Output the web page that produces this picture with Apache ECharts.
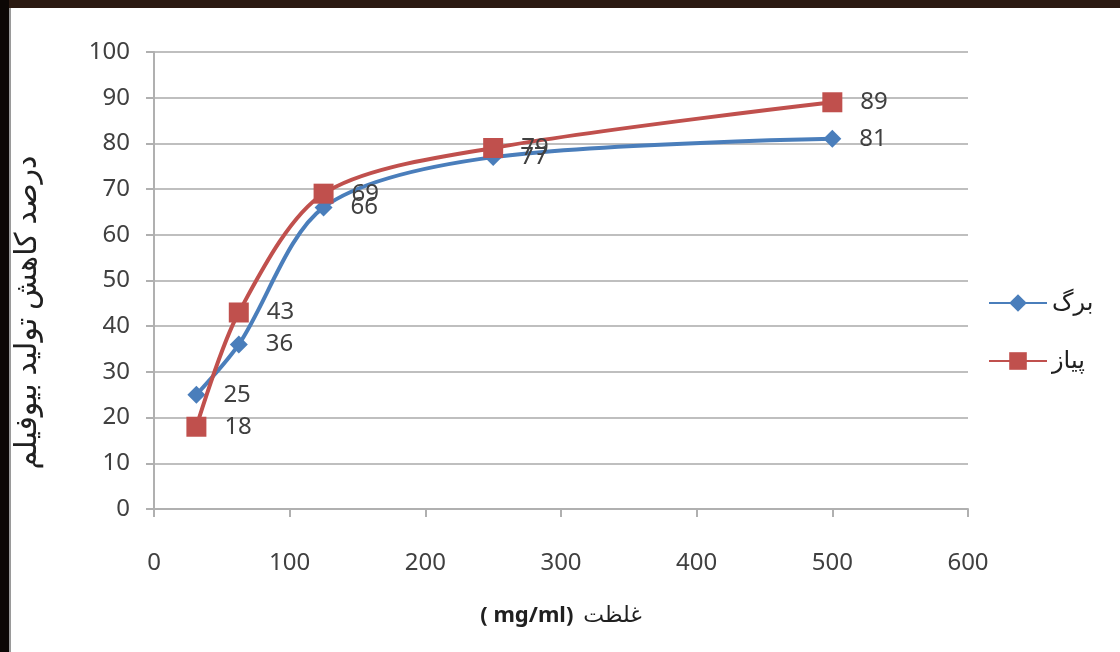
<!DOCTYPE html>
<html><head><meta charset="utf-8">
<script src="https://cdn.jsdelivr.net/npm/echarts@6/dist/echarts.min.js"></script>
<style>html,body{margin:0;padding:0;background:#fff}#c{width:1120px;height:652px}</style>
</head><body><div id="c"></div>
<script>
const concentrations = [31.25, 62.5, 125, 250, 500];
const leafValues = [25, 36, 66, 77, 81];
const onionValues = [18, 43, 69, 79, 89];
const seriesNames = ['برگ', 'پیاز'];
const yAxisTitle = 'درصد کاهش تولید بیوفیلم';
const xAxisTitleUnit = '( mg/ml)';
const xAxisTitleWord = 'غلظت';

const chart = echarts.init(document.getElementById('c'));
const font = '"Noto Sans", "DejaVu Sans", sans-serif';
const labelStyle = {show: true, position: 'right', distance: 18, color: '#404040', fontSize: 24, fontFamily: font};
chart.setOption({
  backgroundColor: '#ffffff',
  animation: false,
  graphic: [
    {type: 'rect', left: 0, top: 0, shape: {width: 1120, height: 8}, style: {fill: '#2b1a12'}, z: 100},
    {type: 'rect', left: 0, top: 0, shape: {width: 9, height: 652}, style: {fill: '#0c0705'}, z: 100},
    {type: 'rect', left: 9, top: 8, shape: {width: 2, height: 644}, style: {fill: '#9a9a9a'}, z: 100}
  ],
  grid: {left: 154, right: 152, top: 52, bottom: 143},
  legend: {
    orient: 'vertical', left: 983, top: 286, itemGap: 34, itemWidth: 58, itemHeight: 22,
    textStyle: {fontSize: 24, color: '#202020', fontFamily: font},
    data: seriesNames
  },
  xAxis: {
    type: 'value', min: 0, max: 600, interval: 100,
    name: '{b|' + xAxisTitleUnit + '}   {a|' + xAxisTitleWord + '}',
    nameLocation: 'middle', nameGap: 96,
    nameTextStyle: {rich: {b: {fontSize: 22, fontWeight: 'bold', color: '#202020', fontFamily: font}, a: {fontSize: 22, color: '#202020', fontFamily: font}}},
    axisLine: {show: true, lineStyle: {color: '#b0b0b0', width: 2}},
    axisTick: {show: true, length: 8, lineStyle: {color: '#b0b0b0', width: 2}},
    axisLabel: {margin: 42, fontSize: 24, color: '#404040', fontFamily: font},
    splitLine: {show: false}
  },
  yAxis: {
    type: 'value', min: 0, max: 100, interval: 10,
    name: yAxisTitle, nameLocation: 'middle', nameGap: 112, nameRotate: 90,
    nameTextStyle: {fontSize: 30, color: '#202020', fontFamily: font, padding: [0, 64, 0, 0]},
    axisLine: {show: true, lineStyle: {color: '#b0b0b0', width: 2}},
    axisTick: {show: true, length: 8, lineStyle: {color: '#b0b0b0', width: 2}},
    axisLabel: {margin: 24, fontSize: 24, color: '#404040', fontFamily: font},
    splitLine: {show: true, lineStyle: {color: '#bfbfbf', width: 2}}
  },
  series: [
    {
      name: seriesNames[0], type: 'line', smooth: 0.3,
      data: concentrations.map((x, i) => [x, leafValues[i]]),
      symbol: 'diamond', symbolSize: 18,
      itemStyle: {color: '#4a7ebb'}, lineStyle: {color: '#4a7ebb', width: 4},
      label: labelStyle, z: 2
    },
    {
      name: seriesNames[1], type: 'line', smooth: 0.3,
      data: concentrations.map((x, i) => [x, onionValues[i]]),
      symbol: 'rect', symbolSize: 20,
      itemStyle: {color: '#c0504d'}, lineStyle: {color: '#c0504d', width: 4},
      label: labelStyle, z: 3
    }
  ]
});
</script></body></html>
